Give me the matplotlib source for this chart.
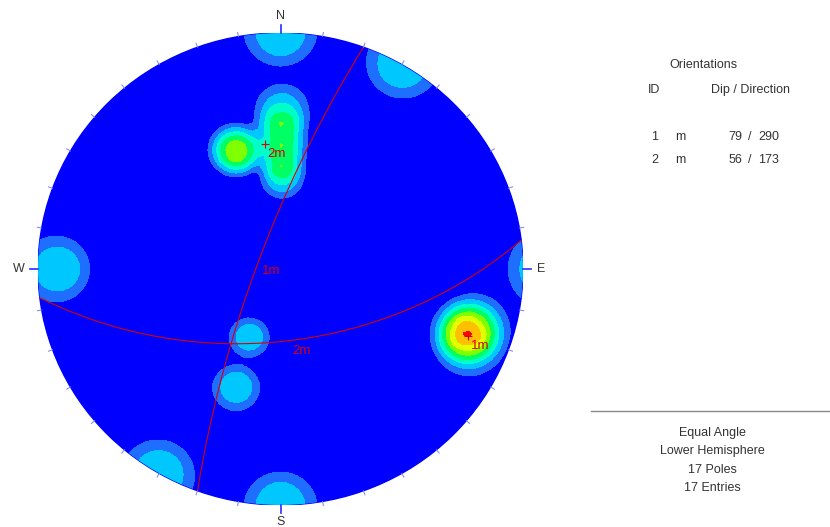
import numpy as np
import matplotlib
matplotlib.use("Agg")
import matplotlib.pyplot as plt
from matplotlib.patches import Circle

# ---------------- data ----------------
# poles: trend (deg) / plunge (deg), lower hemisphere
pole_trend = [0, 30, 270, 204, 200,
              339, 341,
              0.5, 0.5, 1, 1,
              106.5, 112.5, 109.5]
pole_plunge = [0, 0, 5, 55, 34,
               33.5, 34.5,
               22.5, 31, 39.5, 48,
               10.2, 10.2, 14.0]

plane_id = ["1", "2"]
plane_set = ["m", "m"]
plane_dip = [79, 56]
plane_dipdir = [290, 173]

info_lines = ["Equal Angle", "Lower Hemisphere", "17 Poles", "17 Entries"]
cardinal = ["N", "E", "S", "W"]

# ---------------- styling ----------------
W, H = 830, 527
CX, CY, RX, RY = 280.5, 269.0, 242.5, 236.0
level_step = 0.355
# counting kernel profile (angle in deg -> weight)
kern_ang = [0, 2, 4, 5.7, 7, 8.6, 9.6, 10.5, 11.5, 12.5, 13.5, 180]
kern_val = [1.0, 0.99, 0.93, 0.72, 0.56, 0.36, 0.22, 0.14, 0.07, 0.02, 0.0, 0.0]
level_colors = ["#0000FF", "#1E6EFF", "#00C8FF", "#00FFC8", "#00FF64",
                "#80FF00", "#E0FF00", "#FFC000", "#FF0000"]
RED = "#D80000"
TXT = "#333333"
plt.rcParams['font.family'] = ['Liberation Sans', 'DejaVu Sans']

fig = plt.figure(figsize=(W / 100, H / 100), dpi=100)
ax = fig.add_axes([(CX - RX) / W, (H - CY - RY) / H, 2 * RX / W, 2 * RY / H])
ax.set_xlim(-1, 1)
ax.set_ylim(-1, 1)
ax.axis("off")


def proj(v):
    v = np.asarray(v, dtype=float)
    return v[0] / (1 + v[2]), v[1] / (1 + v[2])


def pole_vec(tr, pl):
    tr, pl = np.radians(tr), np.radians(pl)
    return np.array([np.cos(pl) * np.sin(tr), np.cos(pl) * np.cos(tr), np.sin(pl)])


# density grid (axial counting kernel on the sphere)
n = 91
g = np.linspace(-1.03, 1.03, n)
X, Y = np.meshgrid(g, g)
R = np.hypot(X, Y)
R[R == 0] = 1e-9
th = 2 * np.arctan(R)
V = np.stack([np.sin(th) * X / R, np.sin(th) * Y / R, np.cos(th)])
dens = np.zeros_like(X)
for tr, pl in zip(pole_trend, pole_plunge):
    p = pole_vec(tr, pl)
    c = np.abs(np.tensordot(p, V, axes=1))
    ang = np.degrees(np.arccos(np.clip(c, 0, 1)))
    dens += np.interp(ang, kern_ang, kern_val)

levels = [-1] + [level_step * i for i in range(1, len(level_colors))] + [1e9]
clip = Circle((0, 0), 1, transform=ax.transData)
ax.add_patch(Circle((0, 0), 1, color=level_colors[0], zorder=0))
cs = ax.contourf(X, Y, dens, levels=levels, colors=level_colors, antialiased=False, zorder=1)
cs.set_clip_path(clip)

# great circles, their poles and labels
for pid, dip, dd in zip(plane_id, plane_dip, plane_dipdir):
    d, a = np.radians(dip), np.radians(dd)
    s = a - np.pi / 2
    u = np.array([np.sin(s), np.cos(s), 0.0])
    w = np.array([np.cos(d) * np.sin(a), np.cos(d) * np.cos(a), np.sin(d)])
    phi = np.linspace(0, np.pi, 300)
    pts = np.outer(np.cos(phi), u) + np.outer(np.sin(phi), w)
    gx, gy = proj(pts.T)
    ax.plot(gx, gy, color=RED, lw=0.8, zorder=3)
    mx, my = proj(w)
    ax.annotate(pid + "m", (mx, my), xytext=(3, -10), textcoords="offset pixels",
                color=RED, fontsize=9.5, va="center", ha="left", zorder=4)
    pv = pole_vec(dd + 180, 90 - dip)
    px, py = proj(pv)
    ax.plot([px], [py], marker="+", color=RED, ms=6, mew=0.8, zorder=4)
    ax.annotate(pid + "m", (px, py), xytext=(3, -10), textcoords="offset pixels",
                color=RED, fontsize=9.5, va="center", ha="left", zorder=4)

# perimeter ticks
for az in range(0, 360, 10):
    sa, ca = np.sin(np.radians(az)), np.cos(np.radians(az))
    if az % 90 == 0:
        ax.plot([sa, 1.035 * sa], [ca, 1.035 * ca], color="#2030FF", lw=1.2, clip_on=False, zorder=5)
    else:
        ax.plot([sa, 1.018 * sa], [ca, 1.018 * ca], color="#7080FF", lw=0.7, clip_on=False, zorder=5)
for lab, (tx, ty) in zip(cardinal, [(0, 1.072), (1.075, 0), (0, -1.07), (-1.08, 0)]):
    ax.text(tx, ty, lab, ha="center", va="center", fontsize=9, color=TXT, clip_on=False)


def ftext(x, y, s, ha="center"):
    fig.text(x / W, 1 - y / H, s, ha=ha, va="center", fontsize=9, color=TXT)


ftext(703, 65, "Orientations")
ftext(654, 90, "ID")
ftext(750, 90, "Dip / Direction")
for i, (pid, st, dip, dd) in enumerate(zip(plane_id, plane_set, plane_dip, plane_dipdir)):
    y = 137 + 23 * i
    ftext(655, y, pid)
    ftext(680, y, st)
    ftext(742, y, f"{dip:d}", ha="right")
    ftext(750, y, "/")
    ftext(758, y, f"{dd:d}", ha="left")

fig.add_artist(plt.Line2D([591 / W, 1.0], [1 - 411 / H, 1 - 411 / H], color="#888888", lw=1))
for i, s in enumerate(info_lines):
    ftext(712, 433 + 18.3 * i, s)

fig.savefig("out.png", dpi=100)
